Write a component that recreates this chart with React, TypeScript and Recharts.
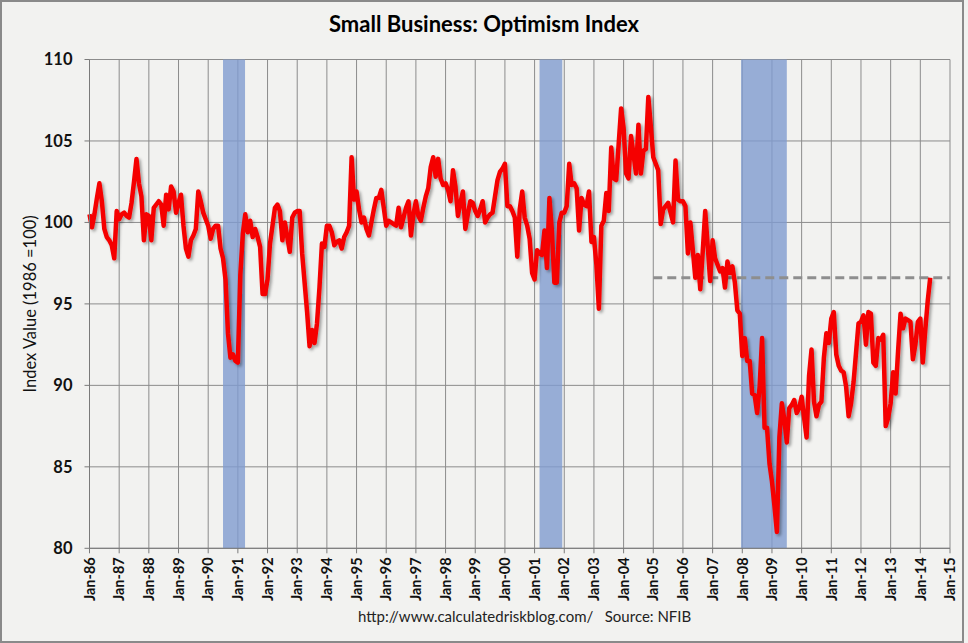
import React from "react"
import {
  LineChart,
  Line,
  XAxis,
  YAxis,
  CartesianGrid,
  ReferenceArea,
  ReferenceLine,
  Label,
} from "recharts"

// NFIB small business optimism index, monthly from Jan 1986 (1986 = 100)
const optimism = [
  100.5, 99.7, 100.5, 101.5, 102.4, 101.3, 99.6, 99.1, 98.9, 98.6, 97.8, 100.7, // 1986
  100.2, 100.5, 100.6, 100.4, 100.3, 101.2, 102.5, 103.9, 102.4, 101.6, 98.9, 100.5, // 1987
  100.4, 98.9, 100.9, 101.1, 101.3, 101.1, 99.8, 101.7, 100.8, 102.2, 101.9, 100.6, // 1988
  101.2, 101.7, 99.8, 98.4, 97.9, 98.9, 99.2, 99.6, 101.9, 101.3, 100.6, 100.2, // 1989
  99.8, 99.0, 99.6, 99.8, 99.8, 98.4, 97.8, 96.5, 93.2, 91.7, 91.9, 91.5, // 1990
  91.4, 96.8, 99.3, 100.5, 99.4, 100.1, 99.1, 99.6, 99.1, 98.5, 95.6, 95.6, // 1991
  96.5, 98.7, 99.8, 100.9, 101.1, 100.7, 98.9, 100.0, 99.1, 98.2, 100.3, 100.6, // 1992
  100.7, 100.7, 98.1, 96.3, 94.5, 92.4, 93.4, 92.6, 93.8, 96.0, 98.7, 98.5, // 1993
  99.8, 99.8, 99.4, 98.6, 98.8, 98.9, 98.4, 99.1, 99.4, 99.8, 104.0, 101.4, // 1994
  101.9, 100.8, 100.0, 100.3, 99.6, 99.2, 100.0, 100.8, 101.5, 101.5, 102.0, 100.9, // 1995
  99.8, 100.1, 100.0, 99.9, 99.8, 100.9, 99.7, 100.3, 100.9, 101.3, 99.2, 100.5, // 1996
  101.3, 100.4, 100.1, 100.9, 101.6, 102.1, 103.4, 104.0, 102.8, 103.9, 102.7, 102.3, // 1997
  102.4, 102.0, 101.3, 103.2, 102.2, 100.4, 101.2, 101.9, 99.6, 100.5, 101.3, 101.2, // 1998
  100.7, 100.4, 100.8, 101.3, 100.0, 100.3, 100.5, 100.6, 101.6, 102.6, 103.1, 103.3, // 1999
  103.6, 101.0, 101.0, 100.7, 100.3, 97.9, 100.8, 101.9, 100.3, 99.8, 99.0, 96.9, // 2000
  96.5, 98.3, 98.1, 98.0, 99.5, 97.2, 101.5, 99.5, 96.3, 96.3, 100.0, 100.6, // 2001
  100.6, 101.0, 103.6, 102.3, 102.4, 102.1, 99.5, 101.5, 101.1, 101.0, 101.9, 98.8, // 2002
  99.1, 97.4, 94.7, 99.8, 100.1, 101.8, 100.7, 104.6, 102.7, 102.6, 104.8, 107.0, // 2003
  105.8, 103.0, 102.7, 105.3, 104.2, 103.0, 106.0, 103.0, 104.4, 104.5, 107.7, 105.9, // 2004
  104.0, 103.6, 103.2, 99.9, 100.8, 101.0, 101.2, 100.6, 100.0, 103.8, 101.4, 101.3, // 2005
  101.3, 101.0, 98.1, 100.0, 98.3, 96.6, 98.0, 95.9, 98.2, 100.7, 98.6, 96.4, // 2006
  98.9, 97.8, 97.4, 97.0, 97.2, 96.0, 97.6, 96.9, 97.3, 96.3, 94.6, 94.4, // 2007
  91.8, 92.9, 91.5, 91.5, 89.5, 89.4, 88.3, 89.9, 92.9, 87.4, 87.4, 85.2, // 2008
  84.1, 82.6, 81.0, 86.8, 88.9, 87.9, 86.5, 88.6, 88.8, 89.1, 88.3, 88.6, // 2009
  89.3, 88.0, 86.8, 90.6, 92.2, 89.0, 88.1, 88.8, 89.0, 91.7, 93.2, 92.6, // 2010
  94.1, 94.5, 91.9, 91.2, 90.9, 90.8, 89.9, 88.1, 88.9, 90.2, 92.0, 93.8, // 2011
  93.9, 94.3, 92.5, 94.5, 94.4, 91.4, 91.2, 92.9, 92.8, 93.1, 87.5, 88.0, // 2012
  88.9, 90.8, 89.5, 92.1, 94.4, 93.5, 94.1, 94.0, 93.9, 91.6, 92.5, 93.9, // 2013
  94.1, 91.4, 93.4, 95.2, 96.6, // 2014
]

const tickLabels = [
  "Jan-86", "Jan-87", "Jan-88", "Jan-89", "Jan-90", "Jan-91", "Jan-92", "Jan-93",
  "Jan-94", "Jan-95", "Jan-96", "Jan-97", "Jan-98", "Jan-99", "Jan-00", "Jan-01",
  "Jan-02", "Jan-03", "Jan-04", "Jan-05", "Jan-06", "Jan-07", "Jan-08", "Jan-09",
  "Jan-10", "Jan-11", "Jan-12", "Jan-13", "Jan-14", "Jan-15",
]
const yTicks = [80, 85, 90, 95, 100, 105, 110]

// recessions, in months since Jan 1986
const recessionStart = [54, 182, 263.5]
const recessionEnd = [62.9, 191.2, 282]

// current level line, from Jan 2005
const levelValue = 96.6
const levelFrom = 228

const data = optimism.map((v, i) => ({ m: i, value: v }))
const xTicks = tickLabels.map((_, i) => i * 12)
const lastTick = xTicks[xTicks.length - 1]

const font = "Lato, 'Open Sans', sans-serif"

function MonthTick(props: any) {
  const { x, y, payload } = props
  const label = tickLabels[Math.round(payload.value / 12)]
  return (
    <text
      x={x}
      y={y}
      dy="0.36em"
      transform={`rotate(-90, ${x}, ${y})`}
      textAnchor="end"
      fontFamily={font}
      fontWeight={700}
      fontSize={14.5}
      fill="#111"
    >
      {label}
    </text>
  )
}

export default function App() {
  return (
    <div
      style={{
        position: "relative",
        width: 968,
        height: 643,
        background: "#f2f2f0",
        fontFamily: font,
      }}
    >
      <style>{"body{margin:0}"}</style>
      <div
        style={{
          position: "absolute",
          left: 0,
          top: 0,
          width: 964,
          height: 643,
          boxSizing: "border-box",
          border: "2px solid #8a8a8a",
          pointerEvents: "none",
        }}
      />
      <div
        style={{
          position: "absolute",
          top: 10,
          left: 0,
          width: 968,
          textAlign: "center",
          fontWeight: 700,
          fontSize: 22,
          color: "#000",
        }}
      >
        Small Business: Optimism Index
      </div>
      <LineChart
        width={968}
        height={643}
        data={data}
        margin={{ top: 59.5, right: 18, left: 0, bottom: 34.7 }}
      >
        <defs>
          <filter id="lineShadow" x="-5%" y="-5%" width="110%" height="110%">
            <feDropShadow dx="2" dy="2" stdDeviation="1.5" floodColor="#000" floodOpacity="0.35" />
          </filter>
        </defs>
        <CartesianGrid stroke="#8c8c8c" strokeWidth={1} />
        {recessionStart.map((s, i) => (
          <ReferenceArea
            key={i}
            x1={s}
            x2={recessionEnd[i]}
            fill="#7f9bd0"
            fillOpacity={0.8}
            stroke="none"
          />
        ))}
        <XAxis
          type="number"
          dataKey="m"
          domain={[0, lastTick]}
          ticks={xTicks}
          interval={0}
          height={60}
          tick={<MonthTick />}
          tickSize={5}
          tickMargin={4}
          stroke="#7a7a7a"
        />
        <YAxis
          domain={[80, 110]}
          ticks={yTicks}
          width={89.5}
          tickSize={5}
          tickMargin={12}
          stroke="#7a7a7a"
          tick={{ fontFamily: font, fontWeight: 700, fontSize: 16.5, fill: "#111" }}
        >
          <Label
            value="Index Value (1986 =100)"
            angle={-90}
            position="insideLeft"
            offset={30}
            style={{ textAnchor: "middle", fontFamily: font, fontSize: 16.5, fill: "#111" }}
          />
        </YAxis>
        <ReferenceLine
          segment={[
            { x: levelFrom, y: levelValue },
            { x: lastTick, y: levelValue },
          ]}
          stroke="#8e8e8e"
          strokeWidth={3}
          strokeDasharray="9 5"
        />
        <Line
          type="linear"
          dataKey="value"
          stroke="#f50000"
          strokeWidth={4.5}
          strokeLinejoin="round"
          dot={false}
          filter="url(#lineShadow)"
          isAnimationActive={false}
        />
      </LineChart>
      <div
        style={{
          position: "absolute",
          top: 607,
          left: 358,
          fontSize: 15,
          color: "#222",
          whiteSpace: "pre",
        }}
      >
        {"http://www.calculatedriskblog.com/   Source: NFIB"}
      </div>
    </div>
  )
}
